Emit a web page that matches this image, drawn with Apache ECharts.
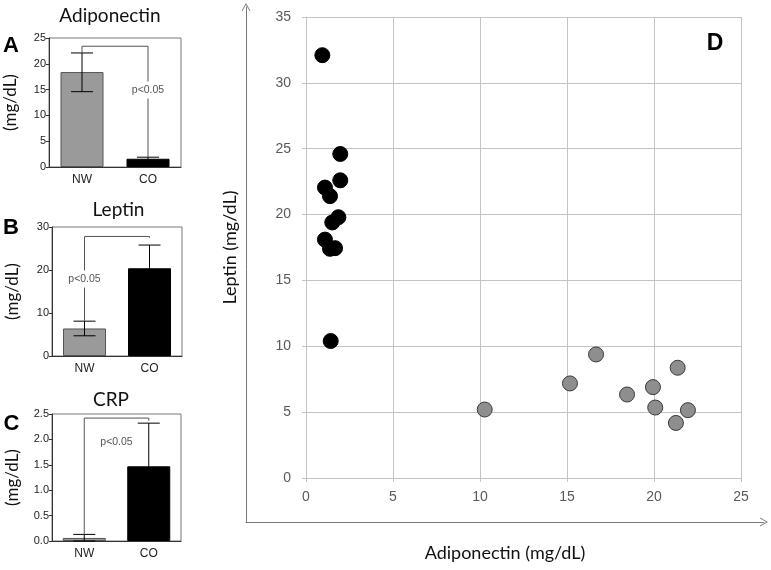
<!DOCTYPE html>
<html><head><meta charset="utf-8">
<script src="https://cdn.jsdelivr.net/npm/echarts@6/dist/echarts.min.js"></script>
<style>html,body{margin:0;padding:0;background:#fff}#c{width:771px;height:570px}</style>
</head><body><div id="c"></div>
<script>
// ---- data ----
const groups = ['NW', 'CO'];
const adipoMean = [18.4, 1.6];
const adipoLow = [14.6, 1.3];
const adipoHigh = [22.1, 1.9];
const leptinMean = [6.4, 20.4];
const leptinLow = [4.7, 15.0];
const leptinHigh = [8.1, 25.8];
const crpMean = [0.06, 1.47];
const crpLow = [0.0, 0.62];
const crpHigh = [0.13, 2.32];
// significance brackets: [A, B, C]
const bracketLevel = [23.4, 27.8, 2.42];
const bracketNWEnd = [22.1, 8.1, 0.13];
const bracketCOEnd = [1.9, 27.5, 2.37];
const pLabelLevel = [14.9, 17.9, 1.95];
const pLabelPos = [1, 0, 0.5];
const pLabelText = 'p<0.05';
const panelTitles = ['Adiponectin', 'Leptin', 'CRP'];
const panelLetters = ['A', 'B', 'C', 'D'];
// scatter
const coAdipo = [0.94, 1.97, 1.97, 1.09, 1.38, 1.86, 1.51, 1.09, 1.38, 1.67, 1.42];
const coLeptin = [32.1, 24.6, 22.6, 22.05, 21.4, 19.8, 19.4, 18.1, 17.4, 17.45, 10.4];
const nwAdipo = [10.27, 15.17, 16.67, 18.45, 19.94, 20.07, 21.36, 21.95, 21.26];
const nwLeptin = [5.2, 7.18, 9.38, 6.34, 6.9, 5.35, 8.37, 5.15, 4.18];

// ---- build ----
const chart = echarts.init(document.getElementById('c'), null, {renderer: 'canvas'});
const tickFont = 'Liberation Sans';
const titleFont = 'Lato';

const grids = [
  {left: 49, top: 38, width: 132, height: 129},
  {left: 52, top: 227, width: 130, height: 129},
  {left: 52, top: 414, width: 129, height: 127},
  {left: 306, top: 17, width: 435, height: 461},
  {left: 246, top: 7, width: 518, height: 515}
].map((g, i) => Object.assign(g, i < 3 ? {show: true, borderColor: '#777', borderWidth: 1, backgroundColor: 'transparent'} : {show: false}));

const barYMax = [25, 30, 2.5];
const barYInt = [5, 10, 0.5];
const nameCenters = [30, 31, 31];

const xAxes = [], yAxes = [];
for (let i = 0; i < 3; i++) {
  xAxes.push({
    gridIndex: i, type: 'category', data: groups,
    axisLine: {lineStyle: {color: '#333', width: 1}},
    axisTick: {show: false},
    axisLabel: {color: '#222', fontSize: 12, fontFamily: tickFont, margin: 7}
  });
  yAxes.push({
    gridIndex: i, type: 'value', min: 0, max: barYMax[i], interval: barYInt[i],
    name: '(mg/dL)', nameLocation: 'middle', nameGap: nameCenters[i],
    nameTextStyle: {fontSize: 17, fontFamily: titleFont, color: '#111'},
    axisLine: {show: true, lineStyle: {color: '#333', width: 1}},
    axisTick: {show: true, length: 3, lineStyle: {color: '#333'}},
    splitLine: {show: false},
    axisLabel: {color: '#222', fontSize: 11, fontFamily: tickFont, margin: 3,
      formatter: v => i === 2 ? v.toFixed(1) : String(v)}
  });
}
// D
xAxes.push({
  gridIndex: 3, type: 'value', min: 0, max: 25, interval: 5,
  axisLine: {show: true, lineStyle: {color: '#c4c4c4'}},
  axisTick: {show: true, length: 4, lineStyle: {color: '#c4c4c4'}},
  splitLine: {show: true, lineStyle: {color: '#c4c4c4', width: 1}},
  axisLabel: {color: '#595959', fontSize: 14, fontFamily: tickFont, margin: 12}
});
yAxes.push({
  gridIndex: 3, type: 'value', min: 0, max: 35, interval: 5,
  name: 'Leptin (mg/dL)', nameLocation: 'middle', nameGap: 67,
  nameTextStyle: {fontSize: 18, fontFamily: titleFont, color: '#111'},
  axisLine: {show: true, lineStyle: {color: '#c4c4c4'}},
  axisTick: {show: true, length: 4, lineStyle: {color: '#c4c4c4'}},
  splitLine: {show: true, lineStyle: {color: '#c4c4c4', width: 1}},
  axisLabel: {color: '#595959', fontSize: 14, fontFamily: tickFont, margin: 15}
});
// arrow frame
const chevron = 'path://M0,70 L40,0 L80,70 L72,70 L40,14 L8,70 Z';
xAxes.push({
  gridIndex: 4, type: 'value', min: 0, max: 1,
  name: 'Adiponectin (mg/dL)', nameLocation: 'middle', nameGap: 22,
  nameTextStyle: {fontSize: 18, fontFamily: titleFont, color: '#111'},
  axisLine: {show: true, onZero: false, symbol: ['none', chevron], symbolSize: [9, 8], lineStyle: {color: '#777', width: 1}},
  axisTick: {show: false}, axisLabel: {show: false}, splitLine: {show: false}
});
yAxes.push({
  gridIndex: 4, type: 'value', min: 0, max: 1,
  axisLine: {show: true, onZero: false, symbol: ['none', chevron], symbolSize: [9, 8], lineStyle: {color: '#777', width: 1}},
  axisTick: {show: false}, axisLabel: {show: false}, splitLine: {show: false}
});

function errItem(params, api) {
  const c = api.value(0), lo = api.value(1), hi = api.value(2);
  const pl = api.coord([c, lo]), ph = api.coord([c, hi]);
  const w = 11;
  const st = {stroke: '#000', lineWidth: 1};
  return {type: 'group', children: [
    {type: 'line', shape: {x1: pl[0], y1: pl[1], x2: ph[0], y2: ph[1]}, style: st},
    {type: 'line', shape: {x1: pl[0] - w, y1: pl[1], x2: pl[0] + w, y2: pl[1]}, style: st},
    {type: 'line', shape: {x1: ph[0] - w, y1: ph[1], x2: ph[0] + w, y2: ph[1]}, style: st}
  ]};
}
function bracketItem(params, api) {
  const lvl = api.value(1), nwE = api.value(2), coE = api.value(3), pl = api.value(4), pp = api.value(5);
  const a = api.coord([0, lvl]), b = api.coord([1, lvl]);
  const aE = api.coord([0, nwE]), bE = api.coord([1, coE]);
  const pt = api.coord([0, pl]);
  const tx = a[0] + (b[0] - a[0]) * pp;
  return {type: 'group', children: [
    {type: 'polyline', shape: {points: [aE, a, b, bE]}, style: {stroke: '#555', lineWidth: 1, fill: null}},
    {type: 'text', z2: 5, style: {text: pLabelText, x: tx, y: pt[1], align: 'center', verticalAlign: 'middle',
      fill: '#555', fontSize: 10.5, fontFamily: tickFont, backgroundColor: '#fff', padding: [3, 1]}}
  ]};
}

const means = [adipoMean, leptinMean, crpMean];
const lows = [adipoLow, leptinLow, crpLow];
const highs = [adipoHigh, leptinHigh, crpHigh];
const series = [];
for (let i = 0; i < 3; i++) {
  series.push({
    type: 'bar', xAxisIndex: i, yAxisIndex: i, barWidth: 43, z: 2,
    data: means[i].map((v, k) => ({value: v, itemStyle: k === 0
      ? {color: '#9a9a9a', borderColor: '#555', borderWidth: 1}
      : {color: '#000', borderColor: '#000', borderWidth: 1}})),
    silent: true
  });
  series.push({
    type: 'custom', xAxisIndex: i, yAxisIndex: i, z: 3, silent: true,
    renderItem: errItem, encode: {x: 0, y: [1, 2]},
    data: groups.map((g, k) => [k, lows[i][k], highs[i][k]])
  });
  series.push({
    type: 'custom', xAxisIndex: i, yAxisIndex: i, z: 4, silent: true,
    renderItem: bracketItem, encode: {x: 0, y: [1, 2, 3, 4]},
    data: [[0, bracketLevel[i], bracketNWEnd[i], bracketCOEnd[i], pLabelLevel[i], pLabelPos[i]]]
  });
}
series.push({
  type: 'scatter', xAxisIndex: 3, yAxisIndex: 3, symbolSize: 15, silent: true,
  itemStyle: {color: '#000', borderColor: '#000', borderWidth: 1, opacity: 1},
  data: coAdipo.map((x, k) => [x, coLeptin[k]])
});
series.push({
  type: 'scatter', xAxisIndex: 3, yAxisIndex: 3, symbolSize: 15, silent: true,
  itemStyle: {color: '#8e8e8e', borderColor: '#3a3a3a', borderWidth: 1, opacity: 1},
  data: nwAdipo.map((x, k) => [x, nwLeptin[k]])
});

const tPos = [[110, 16], [118.5, 210], [111, 399.5]];
const lPos = [[11, 45.5], [11, 227.5], [11.5, 423.5], [715, 43.5]];
const titles = [];
panelTitles.forEach((t, i) => titles.push({text: t, left: tPos[i][0], top: tPos[i][1], padding: 0,
  textAlign: 'center', textVerticalAlign: 'middle',
  textStyle: {fontSize: 19, fontWeight: 'normal', fontFamily: titleFont, color: '#111'}}));
panelLetters.forEach((t, i) => titles.push({text: t, left: lPos[i][0], top: lPos[i][1], padding: 0,
  textAlign: 'center', textVerticalAlign: 'middle',
  textStyle: {fontSize: i === 3 ? 23 : 22, fontWeight: 'bold', fontFamily: 'Liberation Sans', color: '#000'}}));

chart.setOption({
  animation: false,
  backgroundColor: '#fff',
  title: titles,
  grid: grids,
  xAxis: xAxes,
  yAxis: yAxes,
  series: series
});
</script></body></html>
